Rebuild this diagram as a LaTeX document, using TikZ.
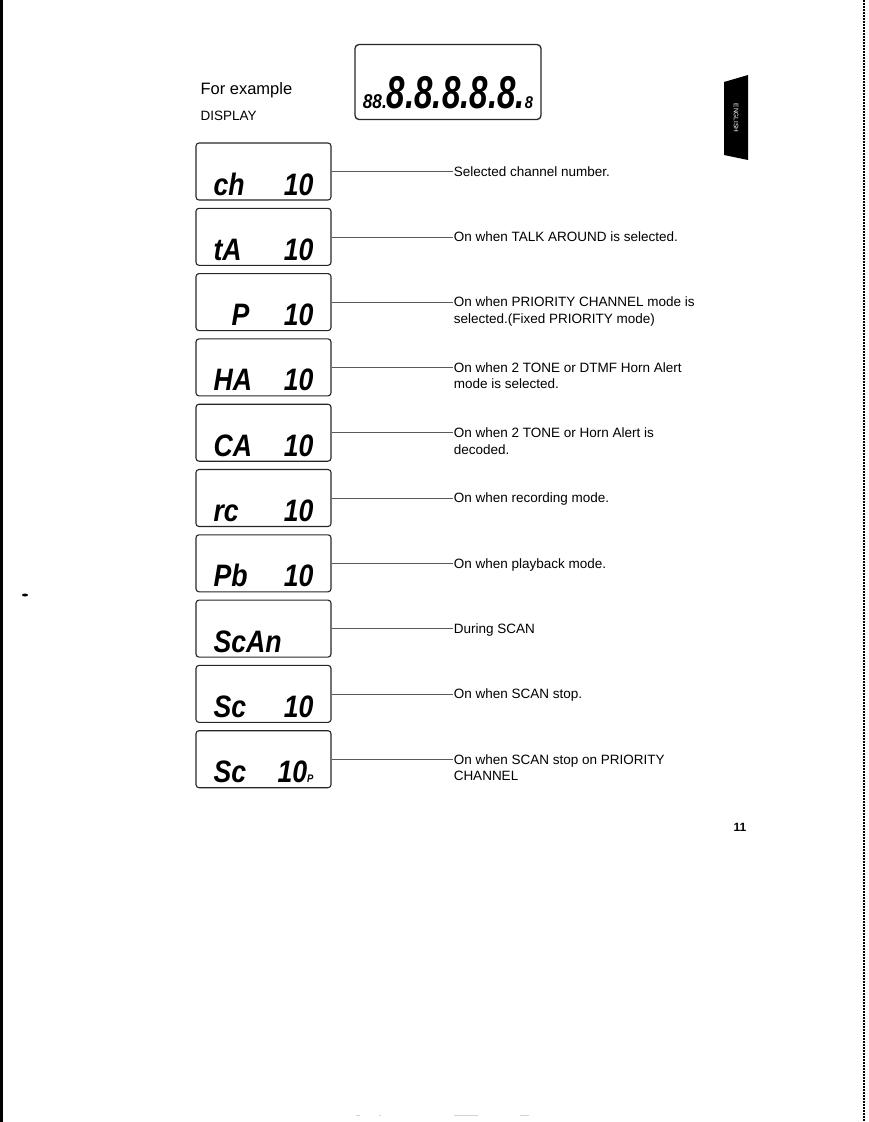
\documentclass[tikz,border=0pt]{standalone}
\usepackage{fontspec}
\setmainfont{Liberation Sans}
\newfontfamily\lcdfont[FakeStretch=0.86]{Liberation Sans}
\newfontfamily\segfont[FakeStretch=0.72]{Liberation Sans}
\newcommand\twolines[2]{\begin{tabular}[t]{@{}l@{}}#1\\#2\end{tabular}}
\usetikzlibrary{positioning}

\begin{document}
\begin{tikzpicture}[x=1pt,y=-1pt,
			lcd/.style={
				draw=black!85,
				line width=1.1pt,
				rounded corners=3pt,
				minimum width=135pt,
				minimum height=57pt,
				text width=100pt,
				inner xsep=17.5pt,
				inner ysep=2pt,
				text height=50pt,
				text depth=3pt,
				font=\lcdfont\bfseries\itshape\fontsize{31}{31}\selectfont
			},
			note/.style={
				anchor=base west,
				yshift=-4.8pt,
				inner sep=1pt,
				font=\fontsize{13.5}{16.5}\selectfont
			},
			lead/.style={draw=black!65,line width=0.6pt},
			node distance=7.2pt]
			
			\useasboundingbox (0,0) rectangle (868,1122);
			
			% page edges and scan marks
			\fill (0,0) rectangle (3,1122);
			\draw[line width=2pt,dash pattern=on 2pt off 1pt] (864,0)--(864,1122);
			\fill (25,595) ellipse (3 and 1.5);
			\draw[gray!35,line width=0.4pt] (356,1115)--(360,1115) (379,1115)--(381,1115) (454,1115)--(478,1115) (520,1115)--(529,1115);
			
			% language tab
			\fill (724,82)--(748,75)--(748,160)--(724,155)--cycle;
			\node(tab)[rotate=-90,text=white,font=\fontsize{6.5}{6.5}\selectfont] at (736,118){ENGLISH};
			
			\node(forex)[anchor=west,font=\fontsize{16.5}{16.5}\selectfont] at (197,90){For example};
			
			\node(dsp)[anchor=west,font=\fontsize{13.5}{13.5}\selectfont] at (197,116){DISPLAY};
			
			\node(disp)[draw=black!85,line width=1.3pt,rounded corners=4pt,minimum width=186pt,minimum height=75pt,inner ysep=3pt,text height=61pt,text depth=8pt,font=\bfseries\itshape] at (448,82){{\lcdfont\fontsize{20}{20}\selectfont 88.}{\segfont\fontsize{46}{46}\selectfont 8.8.8.8.8.}{\lcdfont\fontsize{17}{17}\selectfont 8}};
			
			% display boxes
			\node(ch)[lcd] at (263.5,171.5){ch\hfill 10};
			
			\node(ta)[lcd,below=of ch]{tA\hfill 10};
			
			\node(pr)[lcd,below=of ta]{\hspace*{18pt}P\hfill 10};
			
			\node(ha)[lcd,below=of pr]{HA\hfill 10};
			
			\node(ca)[lcd,below=of ha]{CA\hfill 10};
			
			\node(rc)[lcd,below=of ca]{rc\hfill 10};
			
			\node(pb)[lcd,below=of rc]{Pb\hfill 10};
			
			\node(scan)[lcd,below=of pb]{ScAn\hfill};
			
			\node(sc)[lcd,below=of scan]{Sc\hfill 10};
			
			\node(scp)[lcd,below=of sc]{Sc\hfill 10{\fontsize{11}{11}\selectfont P}};
			
			% notes
			\node(lch)[right=121pt of ch.east,note]{Selected channel number.};
			
			\node(lta)[right=121pt of ta.east,note]{On when TALK AROUND is selected.};
			
			\node(lpr)[right=121pt of pr.east,note]{\twolines{On when PRIORITY CHANNEL mode is}{selected.(Fixed PRIORITY mode)}};
			
			\node(lha)[right=121pt of ha.east,note]{\twolines{On when 2 TONE or DTMF Horn Alert}{mode is selected.}};
			
			\node(lca)[right=121pt of ca.east,note]{\twolines{On when 2 TONE or Horn Alert is}{decoded.}};
			
			\node(lrc)[right=121pt of rc.east,note]{On when recording mode.};
			
			\node(lpb)[right=121pt of pb.east,note]{On when playback mode.};
			
			\node(lscan)[right=121pt of scan.east,note]{During SCAN};
			
			\node(lsc)[right=121pt of sc.east,note]{On when SCAN stop.};
			
			\node(lscp)[right=121pt of scp.east,note]{\twolines{On when SCAN stop on PRIORITY}{CHANNEL}};
			
			\node(pg)[font=\bfseries\fontsize{12}{12}\selectfont] at (740,827){11};
			
			\draw[lead](ch.east)--(ch.east-|lch.west);
			
			\draw[lead](ta.east)--(ta.east-|lta.west);
			
			\draw[lead](pr.east)--(pr.east-|lpr.west);
			
			\draw[lead](ha.east)--(ha.east-|lha.west);
			
			\draw[lead](ca.east)--(ca.east-|lca.west);
			
			\draw[lead](rc.east)--(rc.east-|lrc.west);
			
			\draw[lead](pb.east)--(pb.east-|lpb.west);
			
			\draw[lead](scan.east)--(scan.east-|lscan.west);
			
			\draw[lead](sc.east)--(sc.east-|lsc.west);
			
			\draw[lead](scp.east)--(scp.east-|lscp.west);
			
		\end{tikzpicture}
\end{document}
